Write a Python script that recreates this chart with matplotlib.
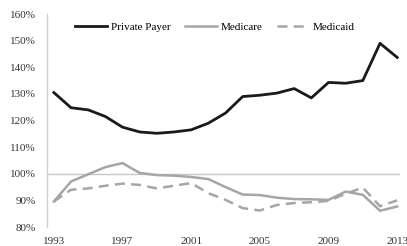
import matplotlib
matplotlib.use("Agg")
import matplotlib.pyplot as plt
import matplotlib.ticker as plticker

years = list(range(1993, 2014))
private_payer = [130.5, 124.8, 124.0, 121.5, 117.5, 115.7, 115.2, 115.7, 116.5, 119.0,
                 122.8, 129.0, 129.5, 130.3, 132.0, 128.5, 134.3, 134.0, 135.0, 149.0, 143.7]
medicare = [89.6, 97.1, 99.8, 102.5, 104.0, 100.3, 99.5, 99.3, 98.8, 98.0,
            95.0, 92.2, 92.0, 91.0, 90.5, 90.4, 90.2, 93.3, 92.1, 86.1, 87.7]
medicaid = [89.6, 94.0, 94.5, 95.5, 96.3, 95.8, 94.5, 95.5, 96.5, 92.7,
            90.2, 87.1, 86.2, 88.3, 89.0, 89.3, 89.8, 92.5, 94.8, 87.8, 90.0]
tick_years = [1993, 1997, 2001, 2005, 2009, 2013]
yticks = [80, 90, 100, 110, 120, 130, 140, 150, 160]

plt.rcParams['font.family'] = ['Liberation Serif', 'DejaVu Serif']

fig = plt.figure(figsize=(4.07, 2.46), dpi=100)
ax = fig.add_axes([0.1155, 0.0772, 0.8675, 0.8658])

ax.axhline(100, color='#c8c8c8', lw=1.0, zorder=1)
ax.plot(years, private_payer, '-', color='#1a1a1a', lw=2.0, label='Private Payer', zorder=3)
ax.plot(years, medicare, '-', color='#a6a6a6', lw=1.8, label='Medicare', zorder=2)
ax.plot(years, medicaid, '--', color='#a6a6a6', lw=1.8, dashes=(4, 2.5), label='Medicaid', zorder=2)

ax.set_xlim(1992.6, 2013.17)
ax.set_ylim(80, 160)
ax.set_xticks(tick_years)
ax.set_yticks(yticks)
ax.yaxis.set_major_formatter(plticker.FuncFormatter(lambda v, p: '%d%%' % v))
ax.tick_params(axis='both', length=0, labelsize=8, colors='#333333')
ax.tick_params(axis='x', pad=7)
ax.tick_params(axis='y', pad=8)

for s in ['top', 'right', 'bottom']:
    ax.spines[s].set_visible(False)
ax.spines['left'].set_color('#d0d0d0')
ax.spines['left'].set_linewidth(1.0)

ax.legend(loc='upper center', bbox_to_anchor=(0.475, 1.01), ncol=3, frameon=False,
          fontsize=8, handlelength=2.9, handletextpad=0.3, columnspacing=1.3)

plt.savefig("out.png", dpi=100)
